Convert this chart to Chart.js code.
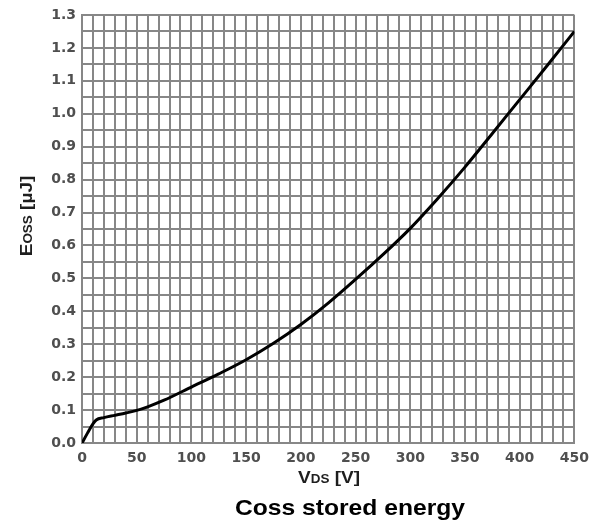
<!DOCTYPE html>
<html>
<head>
<meta charset="utf-8">
<script src="https://cdn.jsdelivr.net/npm/chart.js@4/dist/chart.umd.min.js"></script>
<style>
    html, body { margin: 0; padding: 0; background: #fff; }
    #wrap { width: 596px; height: 524px; }
</style>
</head>
<body>
<div id="wrap"><canvas id="cossChart" width="596" height="524"></canvas></div>
<script>
// values
const vdsValues = [0, 5, 10, 13, 20, 30, 40, 50, 60, 75, 100, 125, 150, 175, 200, 225, 250, 275, 300, 325, 350, 375, 400, 425, 450];
const eossValues = [0, 0.03, 0.058, 0.07, 0.077, 0.084, 0.091, 0.099, 0.11, 0.13, 0.17, 0.21, 0.253, 0.303, 0.36, 0.425, 0.497, 0.572, 0.652, 0.742, 0.838, 0.94, 1.043, 1.146, 1.25];

const xMin = 0, xMax = 450, xStep = 10, xLabelEvery = 50;
const yMin = 0, yMax = 1.3, yStep = 0.05;

const chartTitle = 'Coss stored energy';

const gridColor = '#878787';
const tickColor = '#4f4f4f';
const tickFont = { family: 'DejaVu Sans, sans-serif', size: 14, weight: 'bold' };

// draws axis titles with small subscript parts, and the title under the chart
const textPlugin = {
    id: 'axisText',
    afterDraw(chart) {
        const ctx = chart.ctx;
        const fam = 'Liberation Sans, Arial, sans-serif';
        const stretch = 1.12;

        function drawParts(parts, cx, cy) {
            let total = 0;
            parts.forEach(p => {
                ctx.font = 'bold ' + p.size + 'px ' + fam;
                p.w = ctx.measureText(p.text).width;
                total += p.w;
            });
            ctx.save();
            ctx.translate(cx, cy);
            ctx.scale(stretch, 1);
            let x = -total / 2;
            parts.forEach(p => {
                ctx.font = 'bold ' + p.size + 'px ' + fam;
                ctx.fillText(p.text, x, 0);
                x += p.w;
            });
            ctx.restore();
        }

        ctx.save();
        ctx.fillStyle = '#1e1e1e';
        ctx.textBaseline = 'alphabetic';
        ctx.textAlign = 'left';

        // x axis title
        drawParts([
            { text: 'V', size: 17 },
            { text: 'DS', size: 12 },
            { text: ' [V]', size: 17 }
        ], 329, 483);

        // y axis title
        ctx.save();
        ctx.translate(32, 216);
        ctx.rotate(-Math.PI / 2);
        drawParts([
            { text: 'E', size: 17 },
            { text: 'OSS', size: 12 },
            { text: ' [µJ]', size: 17 }
        ], 0, 0);
        ctx.restore();

        // chart title
        ctx.fillStyle = '#000';
        drawParts([{ text: chartTitle, size: 22 }], 350, 515);
        ctx.restore();
    }
};

new Chart(document.getElementById('cossChart'), {
    type: 'line',
    data: {
        datasets: [{
            data: vdsValues.map((v, i) => ({ x: v, y: eossValues[i] })),
            borderColor: '#000',
            borderWidth: 3,
            pointRadius: 0,
            cubicInterpolationMode: 'monotone',
            fill: false
        }]
    },
    options: {
        responsive: false,
        animation: false,
        layout: { padding: { top: 15, right: 19, left: 0, bottom: 0 } },
        plugins: {
            legend: { display: false },
            tooltip: { enabled: false }
        },
        scales: {
            x: {
                type: 'linear',
                min: xMin,
                max: xMax,
                afterFit(scale) { scale.height = 81; },
                grid: { color: gridColor, lineWidth: 2, drawTicks: false },
                border: { color: gridColor, width: 2 },
                ticks: {
                    stepSize: xStep,
                    autoSkip: false,
                    maxRotation: 0,
                    padding: 7,
                    color: tickColor,
                    font: tickFont,
                    callback: v => (v % xLabelEvery === 0 ? String(v) : '')
                }
            },
            y: {
                min: yMin,
                max: yMax,
                afterFit(scale) { scale.width = 82; },
                grid: { color: gridColor, lineWidth: 2, drawTicks: false },
                border: { color: gridColor, width: 2 },
                ticks: {
                    stepSize: yStep,
                    autoSkip: false,
                    padding: 6,
                    color: tickColor,
                    font: tickFont,
                    callback: (v, i) => (i % 2 === 0 ? v.toFixed(1) : '')
                }
            }
        }
    },
    plugins: [textPlugin]
});
</script>
</body>
</html>
